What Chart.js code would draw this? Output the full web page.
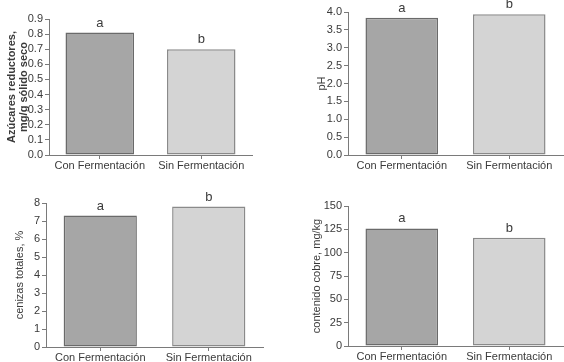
<!DOCTYPE html>
<html>
<head>
<meta charset="utf-8">
<script src="https://cdn.jsdelivr.net/npm/chart.js@4.4.1/dist/chart.umd.min.js"></script>
<style>
  body { margin: 0; background: #fff; }
  #wrap { position: relative; width: 564px; height: 362px; }
  .panel { position: absolute; width: 282px; height: 181px; }
</style>
</head>
<body>
<div id="wrap">
  <div class="panel" style="left:0;top:0"><canvas id="azucares"></canvas></div>
  <div class="panel" style="left:282px;top:0"><canvas id="ph"></canvas></div>
  <div class="panel" style="left:0;top:181px"><canvas id="cenizas"></canvas></div>
  <div class="panel" style="left:282px;top:181px"><canvas id="cobre"></canvas></div>
</div>
<script>
const categories = ['Con Fermentación', 'Sin Fermentación'];
const letters = ['a', 'b'];

const azucares = [0.81, 0.70];
const ph = [3.84, 3.94];
const cenizas = [7.3, 7.8];
const cobre = [126, 116];

const FONT = '"Liberation Sans", Arial, sans-serif';
const TEXT = '#3a3a3a';
const AXIS = '#7a7a7a';

// letters "a" / "b" above each bar
const letterPlugin = {
  id: 'letters',
  afterDatasetsDraw(chart) {
    const ctx = chart.ctx;
    const bars = chart.getDatasetMeta(0).data;
    ctx.save();
    ctx.font = '13px ' + FONT;
    ctx.fillStyle = TEXT;
    ctx.textAlign = 'center';
    ctx.textBaseline = 'alphabetic';
    bars.forEach((bar, i) => {
      ctx.fillText(letters[i], bar.x, bar.y - 6);
    });
    ctx.restore();
  }
};

function makeChart(id, values, opts) {
  const ctx = document.getElementById(id).getContext('2d');
  return new Chart(ctx, {
    type: 'bar',
    data: {
      labels: categories,
      datasets: [{
        data: values,
        backgroundColor: ['#a6a6a6', '#d4d4d4'],
        borderColor: ['#6a6a6a', '#8a8a8a'],
        borderWidth: 1.5,
        borderSkipped: false,
        categoryPercentage: 1,
        barPercentage: 0.675
      }]
    },
    options: {
      responsive: false,
      animation: false,
      devicePixelRatio: 1,
      layout: { padding: opts.padding },
      plugins: { legend: { display: false }, tooltip: { enabled: false } },
      scales: {
        x: {
          grid: { display: true, drawOnChartArea: false, offset: false, color: AXIS, tickLength: 4 },
          border: { color: AXIS, width: 1 },
          ticks: { color: TEXT, font: { family: FONT, size: 11 }, padding: 0, maxRotation: 0, autoSkip: false },
          afterFit: (s) => { s.height = 14; }
        },
        y: {
          min: 0,
          max: opts.max,
          grid: { display: true, drawOnChartArea: false, color: AXIS, tickLength: 4 },
          border: { color: AXIS, width: 1 },
          ticks: {
            stepSize: opts.step,
            autoSkip: false,
            color: TEXT,
            font: { family: FONT, size: 11 },
            padding: 2,
            callback: opts.fmt
          },
          title: {
            display: true,
            text: opts.title,
            color: TEXT,
            font: { family: FONT, size: 11, weight: opts.bold ? 'bold' : 'normal', lineHeight: 1.1 },
            padding: { top: 4, bottom: 0 }
          },
          afterFit: (s) => { s.width = opts.yw; }
        }
      }
    },
    plugins: [letterPlugin]
  });
}

function sizeCanvas(id) {
  const c = document.getElementById(id);
  c.width = 282; c.height = 181;
  c.style.width = '282px'; c.style.height = '181px';
}
['azucares', 'ph', 'cenizas', 'cobre'].forEach(sizeCanvas);

makeChart('azucares', azucares, {
  max: 0.9, step: 0.1, fmt: (v) => v.toFixed(1),
  title: ['Azúcares reductores,', 'mg/g sólido seco'], bold: true,
  yw: 47, padding: { left: 2, top: 19, right: 30, bottom: 12 }
});

makeChart('ph', ph, {
  max: 4.0, step: 0.5, fmt: (v) => v.toFixed(1),
  title: 'pH', bold: false,
  yw: 36, padding: { left: 30, top: 12, right: 1, bottom: 12 }
});

makeChart('cenizas', cenizas, {
  max: 8, step: 1, fmt: (v) => v,
  title: 'cenizas totales, %', bold: false,
  yw: 36, padding: { left: 10, top: 22, right: 19, bottom: 1 }
});

makeChart('cobre', cobre, {
  max: 150, step: 25, fmt: (v) => v,
  title: 'contenido cobre, mg/kg', bold: false,
  yw: 41, padding: { left: 25, top: 25, right: 1, bottom: 2 }
});
</script>
</body>
</html>
